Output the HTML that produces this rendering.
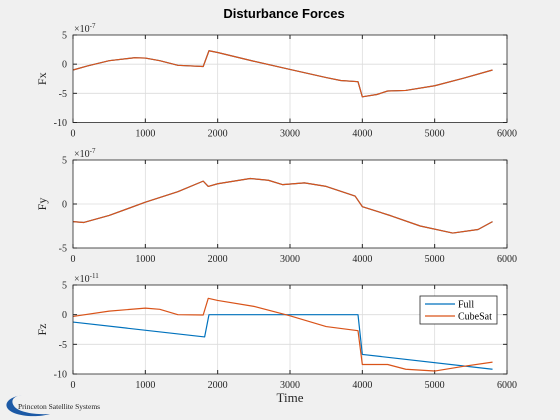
<!DOCTYPE html>
<html><head><meta charset="utf-8"><style>
body{margin:0;background:#f0f0f0;}
svg{display:block;font-family:"Liberation Serif",serif;}
</style></head><body>
<svg id="c" width="560" height="420">
<text x="284" y="18" text-anchor="middle" font-family="Liberation Sans, sans-serif" font-weight="bold" font-size="13">Disturbance Forces</text>
<g>
<path d="M22,395 C4,398 2,408 14,413 C24,417 40,417 50,414 C34,415 18,412 14,406 C10,400 14,396 22,395 Z" fill="#1d5aa6"/>
<text x="18" y="409" font-size="7.5" fill="#222">Princeton Satellite Systems</text>
</g>
</svg>
<script>
const xTicks=[0,1000,2000,3000,4000,5000,6000];
const fxT=[0,200,500,850,1000,1200,1450,1800,1880,2000,2500,3000,3500,3700,3940,4000,4200,4350,4600,5000,5400,5800];
const fxV=[-1,-0.3,0.6,1.1,1.05,0.6,-0.2,-0.4,2.3,2.0,0.5,-0.9,-2.3,-2.8,-3,-5.6,-5.2,-4.6,-4.5,-3.7,-2.4,-1];
const fyT=[0,150,500,1000,1450,1800,1870,2000,2450,2700,2900,3200,3500,3900,4000,4400,4800,5250,5600,5800];
const fyV=[-2.0,-2.1,-1.3,0.2,1.4,2.6,2.0,2.3,2.9,2.7,2.2,2.4,2.0,0.9,-0.3,-1.35,-2.5,-3.3,-2.9,-2.0];
const fzFullT=[0,1820,1880,3940,4000,5800];
const fzFullV=[-1.25,-3.75,0,0,-6.7,-9.2];
const fzCubeT=[0,500,1000,1200,1450,1800,1870,2000,2500,3000,3500,3940,4000,4350,4600,5000,5400,5800];
const fzCubeV=[-0.3,0.6,1.1,0.9,0,-0.05,2.75,2.4,1.4,-0.2,-2.0,-2.7,-8.4,-8.4,-9.2,-9.5,-8.7,-8.0];
const panels=[
 {name:'fx',label:'Fx',top:35,bot:122.5,min:-10,max:5,ticks:[5,0,-5,-10],exp:'-7',series:[[fxT,fxV,'#0072BD'],[fxT,fxV,'#D95319']]},
 {name:'fy',label:'Fy',top:160,bot:248,min:-5,max:5,ticks:[5,0,-5],exp:'-7',series:[[fyT,fyV,'#0072BD'],[fyT,fyV,'#D95319']]},
 {name:'fz',label:'Fz',top:285,bot:374,min:-10,max:5,ticks:[5,0,-5,-10],exp:'-11',series:[[fzFullT,fzFullV,'#0072BD'],[fzCubeT,fzCubeV,'#D95319']]}
];
const L=73,R=507,NS='http://www.w3.org/2000/svg',svg=document.getElementById('c');
function mk(t,a,p){const e=document.createElementNS(NS,t);for(const k in a)e.setAttribute(k,a[k]);(p||svg).appendChild(e);return e;}
const sx=v=>L+(v-0)/6000*(R-L);
panels.forEach(p=>{
 const sy=v=>p.bot-(v-p.min)/(p.max-p.min)*(p.bot-p.top);
 const g=mk('g',{});
 
 
 mk('rect',{x:L,y:p.top,width:R-L,height:p.bot-p.top,fill:'#fff'},g);
 xTicks.forEach(t=>{
  if(t>0&&t<6000)mk('line',{x1:sx(t),x2:sx(t),y1:p.top,y2:p.bot,stroke:'#dcdcdc','stroke-width':0.8},g);
  mk('line',{x1:sx(t),x2:sx(t),y1:p.bot,y2:p.bot-4,stroke:'#262626'},g);
  mk('line',{x1:sx(t),x2:sx(t),y1:p.top,y2:p.top+4,stroke:'#262626'},g);
  const tx=mk('text',{x:sx(t),y:p.bot+14,'text-anchor':'middle','font-size':10,fill:'#262626'},g);
  
  
  tx.textContent=t;
 });
 p.ticks.forEach(t=>{
  if(t>p.min&&t<p.max)mk('line',{x1:L,x2:R,y1:sy(t),y2:sy(t),stroke:'#dcdcdc','stroke-width':0.8},g);
  mk('line',{x1:L,x2:L+4,y1:sy(t),y2:sy(t),stroke:'#262626'},g);
  mk('line',{x1:R,x2:R-4,y1:sy(t),y2:sy(t),stroke:'#262626'},g);
  const tx=mk('text',{x:L-6,y:sy(t)+3.5,'text-anchor':'end','font-size':10,fill:'#262626'},g);
  
  
  tx.textContent=t;
 });
 const ex=mk('text',{x:L+1,y:p.top-3,'font-size':10,fill:'#262626'},g);
 
 
 ex.innerHTML='×10<tspan font-size="7" dy="-4">'+p.exp+'</tspan>';
 const yl=mk('text',{transform:`translate(${L-27},${(p.top+p.bot)/2}) rotate(-90)`,'text-anchor':'middle','font-size':12,fill:'#262626'},g);
 
 
 yl.textContent=p.label;
 p.series.forEach(s=>{
  const pl=mk('polyline',{points:s[0].map((t,i)=>sx(t)+','+sy(s[1][i])).join(' '),fill:'none',stroke:s[2],'stroke-width':1.2,'stroke-linejoin':'round'},g);
  
  
 });
 mk('rect',{x:L,y:p.top,width:R-L,height:p.bot-p.top,fill:'none',stroke:'#262626','stroke-width':0.8},g);
});
const xt=mk('text',{x:290,y:402,'text-anchor':'middle','font-size':13,fill:'#262626'});


xt.textContent='Time';
const lg=mk('g',{});


mk('rect',{x:420,y:296,width:77,height:28,fill:'#fff',stroke:'#262626','stroke-width':0.8},lg);
[['Full','#0072BD'],['CubeSat','#D95319']].forEach((e,i)=>{
 const y=304+i*12;
 mk('line',{x1:425,x2:455,y1:y,y2:y,stroke:e[1],'stroke-width':1.2},lg);
 const t=mk('text',{x:458,y:y+3.5,'font-size':10,fill:'#000'},lg);
 
 
 t.textContent=e[0];
});
</script>
</body></html>
